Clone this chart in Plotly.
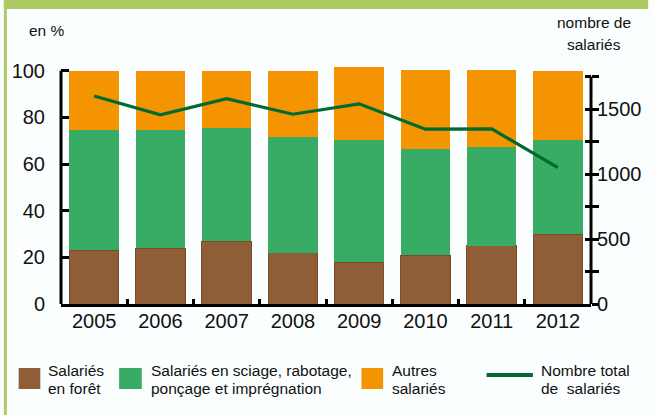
import plotly.graph_objects as go

years = ["2005", "2006", "2007", "2008", "2009", "2010", "2011", "2012"]
foret = [23, 24, 27, 22, 18, 21, 25, 30]
sciage = [51.5, 50.5, 48.5, 49.5, 52.5, 45.5, 42.5, 40.5]
autres = [25.5, 25.5, 24.5, 28.5, 31, 34, 33, 29.5]
total = [1600, 1455, 1580, 1460, 1540, 1345, 1348, 1050]

left_ticks = [0, 20, 40, 60, 80, 100]
right_ticks = [0, 250, 500, 750, 1000, 1250, 1500, 1750]
right_text = ["0", "", "500", "", "1000", "", "1500", ""]

BROWN = "#8F5D36"
GREEN = "#38AB64"
ORANGE = "#F39400"
LINE = "#006A31"
BG = "#FAFEFE"
FRAME = "#AECB63"

W, H = 654, 415
ML, MR, MT, MB = 58, 58, 66, 111
PW = W - ML - MR
PH = H - MT - MB
Y0PX = H - MB


def px(x):
    return (x - ML) / PW


def py(y):
    return (Y0PX - y) / PH


fig = go.Figure()
fig.add_trace(go.Bar(x=years, y=foret, name="Salariés en forêt", marker=dict(color=BROWN, line=dict(color="#7A4C2A", width=1))))
fig.add_trace(go.Bar(x=years, y=sciage, name="Salariés en sciage, rabotage, ponçage et imprégnation", marker=dict(color=GREEN, line=dict(width=0))))
fig.add_trace(go.Bar(x=years, y=autres, name="Autres salariés", marker=dict(color=ORANGE, line=dict(width=0))))
fig.add_trace(go.Scatter(x=years, y=total, name="Nombre total de salariés", yaxis="y2", mode="lines", line=dict(color=LINE, width=3.2)))
# same series on a twin axis, fully transparent, only so the crossing inner ticks get drawn
fig.add_trace(go.Scatter(x=years, y=total, yaxis="y3", mode="lines", line=dict(color="rgba(0,0,0,0)", width=0), hoverinfo="skip", showlegend=False))

font = "Liberation Sans, Arial, sans-serif"

shapes = [
    # frame
    dict(type="rect", xref="paper", yref="paper", x0=px(0), x1=px(W), y0=py(0), y1=py(9), fillcolor=FRAME, line=dict(width=0), layer="below"),
    dict(type="rect", xref="paper", yref="paper", x0=px(0), x1=px(3), y0=py(0), y1=py(H), fillcolor=FRAME, line=dict(width=0), layer="below"),
    # axis lines
    dict(type="line", xref="paper", yref="y", x0=0, x1=0, y0=0, y1=100, line=dict(color="black", width=3)),
    dict(type="line", xref="paper", yref="y2", x0=1, x1=1, y0=0, y1=1750, line=dict(color="black", width=3)),
    # legend symbols
    dict(type="rect", xref="paper", yref="paper", x0=px(15), x1=px(37), y0=py(389), y1=py(368), fillcolor=BROWN, line=dict(width=0)),
    dict(type="rect", xref="paper", yref="paper", x0=px(117), x1=px(140), y0=py(389), y1=py(368), fillcolor=GREEN, line=dict(width=0)),
    dict(type="rect", xref="paper", yref="paper", x0=px(363), x1=px(385), y0=py(389), y1=py(368), fillcolor=ORANGE, line=dict(width=0)),
    dict(type="line", xref="paper", yref="paper", x0=px(490), x1=px(537), y0=py(375), y1=py(375), line=dict(color=LINE, width=4)),
]

ann = []


def text(t, x, y, size=15.5, anchor="left"):
    ann.append(dict(text=t, xref="paper", yref="paper", x=px(x), y=py(y), xanchor=anchor, yanchor="middle",
                    showarrow=False, font=dict(size=size, color="#111111", family=font)))


text("en %", 23, 30)
text("nombre de", 599, 22, anchor="center")
text("salariés", 599, 44, anchor="center")
text("Salariés", 43, 370)
text("en forêt", 43, 388)
text("Salariés en sciage, rabotage,", 147, 370)
text("ponçage et imprégnation", 147, 388)
text("Autres", 392, 370)
text("salariés", 392, 388)
text("Nombre total", 543, 370)
text("de\u00a0 salariés", 543, 388)

fig.update_layout(
    width=W, height=H,
    margin=dict(l=ML, r=MR, t=MT, b=MB),
    paper_bgcolor=BG, plot_bgcolor=BG,
    barmode="stack", bargap=0.254,
    showlegend=False,
    font=dict(family=font, color="#111111"),
    xaxis=dict(type="category", range=[-0.5, 7.5], showline=True, linecolor="black", linewidth=3,
               ticks="inside", tickson="boundaries", ticklen=5, tickwidth=2.5, tickcolor="black",
               tickfont=dict(size=20), showgrid=False, zeroline=False, ticklabelstandoff=-3),
    yaxis=dict(range=[0, 102], tickvals=left_ticks, ticks="inside", ticklen=8, tickwidth=2.5, tickcolor="black",
               tickfont=dict(size=20), showgrid=False, zeroline=False, showline=False, ticklabelstandoff=15),
    yaxis2=dict(range=[0, 1831], overlaying="y", side="right", tickvals=right_ticks, ticktext=right_text,
                ticks="outside", ticklen=7, tickwidth=2.5, tickcolor="black", tickfont=dict(size=20),
                showgrid=False, zeroline=False, showline=False, ticklabelstandoff=-6),
    yaxis3=dict(range=[0, 1831], overlaying="y", side="right", tickvals=right_ticks, showticklabels=False,
                ticks="inside", ticklen=6, tickwidth=2.5, tickcolor="black",
                showgrid=False, zeroline=False, showline=False),
    shapes=shapes,
    annotations=ann,
)

fig.write_html("out.html", config={"displayModeBar": False},
               post_script="document.body.style.margin='0';document.body.style.overflow='hidden';")
